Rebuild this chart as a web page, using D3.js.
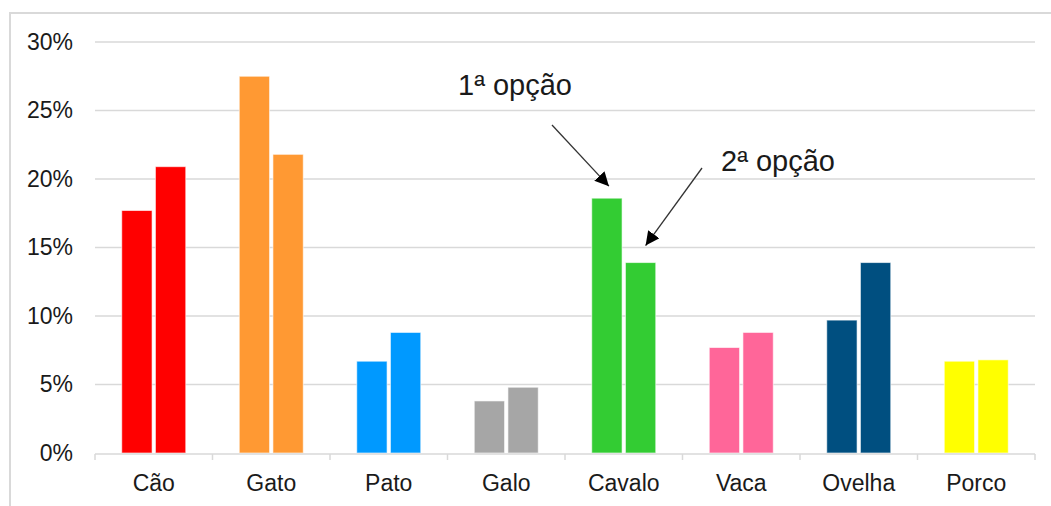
<!DOCTYPE html>
<html>
<head>
<meta charset="utf-8">
<script src="https://cdn.jsdelivr.net/npm/d3@7"></script>
<style>
  html, body { margin: 0; padding: 0; background: #fff; }
  svg { display: block; font-family: "Liberation Sans", Arial, sans-serif; }
</style>
</head>
<body>
<svg id="chart" width="1051" height="506"></svg>
<script>
// Animals and the share of first / second choices
const categories = ["Cão", "Gato", "Pato", "Galo", "Cavalo", "Vaca", "Ovelha", "Porco"];
const firstChoice = [17.7, 27.5, 6.7, 3.8, 18.6, 7.7, 9.7, 6.7];
const secondChoice = [20.9, 21.8, 8.8, 4.8, 13.9, 8.8, 13.9, 6.8];
const barColors = ["#FF0000", "#FF9933", "#0099FF", "#A6A6A6", "#33CC33", "#FF6699", "#004F80", "#FFFF00"];
const yTicks = [0, 5, 10, 15, 20, 25, 30];
const choiceLabels = ["1ª opção", "2ª opção"];

const svg = d3.select("#chart");
const plot = { left: 95, right: 1035, top: 42, bottom: 453 };

// Outer frame (left and top edges)
svg.append("path")
  .attr("d", "M10,506 V13 H1051")
  .attr("fill", "none")
  .attr("stroke", "#d9d9d9")
  .attr("stroke-width", 2);

const x = d3.scaleBand().domain(categories).range([plot.left, plot.right]).paddingInner(0).paddingOuter(0);
const y = d3.scaleLinear().domain([0, 30]).range([plot.bottom, plot.top]);

// Horizontal gridlines
svg.append("g")
  .selectAll("line")
  .data(yTicks.filter(d => d > 0))
  .join("line")
  .attr("x1", plot.left).attr("x2", plot.right)
  .attr("y1", d => y(d)).attr("y2", d => y(d))
  .attr("stroke", "#d9d9d9").attr("stroke-width", 1.5);

// Y axis labels
const yAxis = d3.axisLeft(y).tickValues(yTicks).tickFormat(d => d + "%").tickSize(0).tickPadding(22);
const yg = svg.append("g").attr("transform", `translate(${plot.left},0)`).call(yAxis);
yg.select(".domain").remove();
yg.selectAll("text")
  .attr("font-size", 23)
  .attr("font-family", "Liberation Sans, Arial, sans-serif")
  .attr("fill", "#1a1a1a");

// Bars: two per category
const inner = d3.scaleBand().domain([0, 1]).range([0, 64]).paddingInner(0.1);
const offset = (x.bandwidth() - 64) / 2;
const rows = categories.map((c, i) => ({ c, i, vals: [firstChoice[i], secondChoice[i]] }));
const groups = svg.append("g").selectAll("g")
  .data(rows)
  .join("g")
  .attr("transform", d => `translate(${x(d.c) + offset},0)`);
groups.selectAll("rect")
  .data(d => d.vals.map((v, k) => ({ v, k, color: barColors[d.i] })))
  .join("rect")
  .attr("x", d => inner(d.k))
  .attr("width", inner.bandwidth())
  .attr("y", d => y(d.v))
  .attr("height", d => y(0) - y(d.v))
  .attr("fill", d => d.color)
  .attr("stroke", "#ffffff")
  .attr("stroke-opacity", 0.6)
  .attr("stroke-width", 1);

// Category axis with boundary ticks
const xAxisLine = svg.append("g");
xAxisLine.append("line")
  .attr("x1", plot.left).attr("x2", plot.right)
  .attr("y1", plot.bottom + 1).attr("y2", plot.bottom + 1)
  .attr("stroke", "#d9d9d9").attr("stroke-width", 1.5);
const bounds = categories.map(c => x(c)).concat([plot.right]);
xAxisLine.selectAll(".bt")
  .data(bounds)
  .join("line")
  .attr("class", "bt")
  .attr("x1", d => d).attr("x2", d => d)
  .attr("y1", plot.bottom + 1).attr("y2", plot.bottom + 7)
  .attr("stroke", "#d9d9d9").attr("stroke-width", 1.5);
xAxisLine.selectAll("text")
  .data(categories)
  .join("text")
  .attr("x", d => x(d) + x.bandwidth() / 2)
  .attr("y", 491)
  .attr("text-anchor", "middle")
  .attr("font-size", 23)
  .attr("fill", "#1a1a1a")
  .text(d => d);

// Annotations pointing at the Cavalo bars
const defs = svg.append("defs");
defs.append("marker")
  .attr("id", "arrowhead")
  .attr("viewBox", "0 0 10 10")
  .attr("refX", 10).attr("refY", 5)
  .attr("markerWidth", 14).attr("markerHeight", 14)
  .attr("markerUnits", "userSpaceOnUse")
  .attr("orient", "auto")
  .append("path")
  .attr("d", "M0,0 L10,5 L0,10 Z")
  .attr("fill", "#000");

const cav = x("Cavalo") + offset;
const tip1 = { x: cav + inner(0) + inner.bandwidth() / 2 + 2, y: y(firstChoice[4]) - 12 };
const tip2 = { x: cav + inner(1) + inner.bandwidth() / 2 + 5, y: y(secondChoice[4]) - 17 };

svg.append("line")
  .attr("x1", 552).attr("y1", 125)
  .attr("x2", tip1.x).attr("y2", tip1.y)
  .attr("stroke", "#333").attr("stroke-width", 1.3)
  .attr("marker-end", "url(#arrowhead)");
svg.append("line")
  .attr("x1", 702).attr("y1", 168)
  .attr("x2", tip2.x).attr("y2", tip2.y)
  .attr("stroke", "#333").attr("stroke-width", 1.3)
  .attr("marker-end", "url(#arrowhead)");

svg.append("text")
  .attr("x", 458).attr("y", 95)
  .attr("font-size", 29)
  .attr("fill", "#1a1a1a")
  .text(choiceLabels[0]);
svg.append("text")
  .attr("x", 721).attr("y", 171)
  .attr("font-size", 29)
  .attr("fill", "#1a1a1a")
  .text(choiceLabels[1]);
</script>
</body>
</html>
